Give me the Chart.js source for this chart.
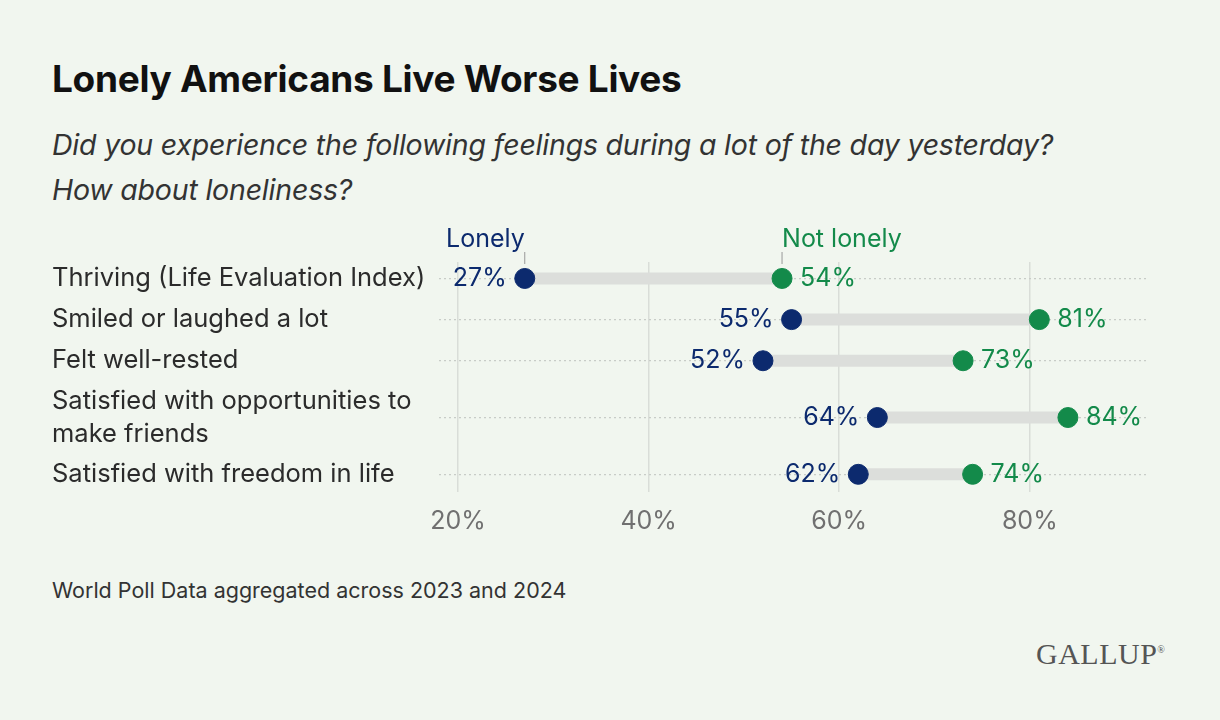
<!DOCTYPE html>
<html>
<head>
<meta charset="utf-8">
<script src="https://cdn.jsdelivr.net/npm/chart.js@4/dist/chart.umd.min.js"></script>
<style>
  body { margin:0; width:1220px; height:720px; background:#f1f6ef; font-family:Inter, "Noto Sans", sans-serif; position:relative; overflow:hidden; color:#222; }
  #title { position:absolute; left:52px; top:56px; font-size:37px; font-weight:700; color:#111; letter-spacing:-0.3px; }
  #sub { position:absolute; left:52px; top:122px; font-size:28.5px; font-style:italic; color:#333; line-height:45px; letter-spacing:-0.2px; }
  #foot { position:absolute; left:52px; top:577px; font-size:21.5px; color:#333; }
  #logo { position:absolute; left:1036px; top:637px; font-family:"Liberation Serif", serif; font-size:30px; color:#555; letter-spacing:0.5px; }
  #wrap { position:absolute; left:0; top:220px; width:1220px; height:330px; }
</style>
</head>
<body>
<div id="title">Lonely Americans Live Worse Lives</div>
<div id="sub">Did you experience the following feelings during a lot of the day yesterday?<br>How about loneliness?</div>
<div id="foot">World Poll Data aggregated across 2023 and 2024</div>
<div id="logo">GALLUP<sup style="font-size:10px">®</sup></div>
<div id="wrap"><canvas id="chart"></canvas></div>
<script>
var categories = ['Thriving (Life Evaluation Index)', 'Smiled or laughed a lot', 'Felt well-rested',
  ['Satisfied with opportunities to', 'make friends'], 'Satisfied with freedom in life'];
var rowPos = [0, 1, 2, 3.38, 4.76];
var lonely = [27, 55, 52, 64, 62];
var notLonely = [54, 81, 73, 84, 74];
var xTicks = [20, 40, 60, 80];

var NAVY = '#0c2a6e', GREEN = '#138a4a';
var FONT = 'Inter, "Noto Sans", sans-serif';

var dumbbell = {
  id: 'dumbbell',
  beforeDatasetsDraw: function(chart) {
    var c = chart.ctx, x = chart.scales.x, y = chart.scales.y;
    c.save();
    c.strokeStyle = '#dcdedb';
    c.lineWidth = 12;
    for (var i = 0; i < rowPos.length; i++) {
      var py = y.getPixelForValue(rowPos[i]);
      c.beginPath();
      c.moveTo(x.getPixelForValue(lonely[i]), py);
      c.lineTo(x.getPixelForValue(notLonely[i]), py);
      c.stroke();
    }
    c.restore();
  },
  afterDatasetsDraw: function(chart) {
    var c = chart.ctx, x = chart.scales.x, y = chart.scales.y;
    c.save();
    c.font = '25px ' + FONT;
    c.textBaseline = 'middle';
    for (var i = 0; i < rowPos.length; i++) {
      var py = y.getPixelForValue(rowPos[i]);
      c.fillStyle = NAVY; c.textAlign = 'right';
      c.fillText(lonely[i] + '%', x.getPixelForValue(lonely[i]) - 18, py);
      c.fillStyle = GREEN; c.textAlign = 'left';
      c.fillText(notLonely[i] + '%', x.getPixelForValue(notLonely[i]) + 18, py);
    }
    // series headers above the first row
    var lx = x.getPixelForValue(lonely[0]), gx = x.getPixelForValue(notLonely[0]);
    var top = chart.chartArea.top;
    c.strokeStyle = '#999'; c.lineWidth = 1;
    c.beginPath(); c.moveTo(lx, top - 10); c.lineTo(lx, top + 2); c.moveTo(gx, top - 10); c.lineTo(gx, top + 2); c.stroke();
    c.textBaseline = 'alphabetic';
    c.fillStyle = NAVY; c.textAlign = 'right';
    c.fillText('Lonely', lx, top - 15);
    c.fillStyle = GREEN; c.textAlign = 'left';
    c.fillText('Not lonely', gx, top - 15);
    c.restore();
  }
};

function pts(vals) { return vals.map(function(v, i) { return { x: v, y: rowPos[i] }; }); }

new Chart(document.getElementById('chart'), {
  type: 'scatter',
  data: {
    datasets: [
      { label: 'Lonely', data: pts(lonely), backgroundColor: NAVY, borderColor: NAVY, pointRadius: 10, pointHoverRadius: 10 },
      { label: 'Not lonely', data: pts(notLonely), backgroundColor: GREEN, borderColor: GREEN, pointRadius: 10, pointHoverRadius: 10 }
    ]
  },
  plugins: [dumbbell],
  options: {
    responsive: true, maintainAspectRatio: false, animation: false,
    layout: { padding: { left: 52, right: 73, top: 42, bottom: 0 } },
    plugins: { legend: { display: false }, tooltip: { enabled: false } },
    scales: {
      x: {
        type: 'linear', min: 18, max: 92.3,
        afterBuildTicks: function(s) { s.ticks = xTicks.map(function(v) { return { value: v }; }); },
        ticks: { callback: function(v) { return v + '%'; }, color: '#707070', padding: 14, autoSkip: false, font: { size: 25, family: FONT } },
        grid: { color: '#d9ddd8', lineWidth: 1.5, drawTicks: false },
        border: { display: false }
      },
      y: {
        type: 'linear', reverse: true, min: -0.4, max: 5.19,
        afterBuildTicks: function(s) { s.ticks = rowPos.map(function(v) { return { value: v }; }); },
        afterFit: function(s) { s.width = 387; },
        ticks: {
          callback: function(v) { var i = rowPos.indexOf(v); return i < 0 ? '' : categories[i]; },
          crossAlign: 'far', color: '#2b2b2b', padding: 6, autoSkip: false,
          font: { size: 25.5, family: FONT, lineHeight: 1.3 }
        },
        grid: { color: '#c8ccc7', lineWidth: 1.2, drawTicks: false },
        border: { display: false, dash: [2, 3] }
      }
    }
  }
});
</script>
</body>
</html>
